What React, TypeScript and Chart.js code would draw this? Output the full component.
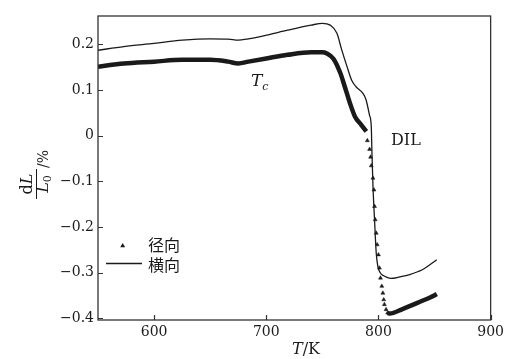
import React, { useEffect, useRef } from "react";
import { Chart, registerables } from "chart.js";

Chart.register(...registerables);

// ---- data ----
const X_TICKS = [600, 700, 800, 900];
const Y_TICKS = [-0.4, -0.3, -0.2, -0.1, 0, 0.1, 0.2];
const X_MIN = 550;
const X_MAX = 900;
const Y_MIN = -0.404;
const Y_MAX = 0.262;

// 横向 (solid line)
const transverseT = [550, 573, 600, 625, 650, 666, 675, 684, 700, 719, 740, 750, 757, 763, 767, 772, 776, 780, 786, 789, 792, 793.6, 794.2, 795.1, 796.5, 798, 799.5, 801.5, 803.9, 808, 811, 820, 827, 839, 852];
const transverseV = [0.187, 0.195, 0.202, 0.209, 0.212, 0.2115, 0.209, 0.212, 0.22, 0.231, 0.242, 0.246, 0.242, 0.224, 0.19, 0.151, 0.122, 0.107, 0.093, 0.078, 0.045, 0.02, -0.038, -0.11, -0.184, -0.257, -0.287, -0.3, -0.306, -0.311, -0.313, -0.309, -0.305, -0.294, -0.272];

// 径向 (triangles) — dense upper part
const radialUpperT = [550, 573, 600, 625, 650, 666, 675, 684, 700, 719, 740, 750, 754, 760, 766, 770, 774.6, 779, 784.8, 789.2];
const radialUpperV = [0.151, 0.158, 0.162, 0.166, 0.166, 0.162, 0.158, 0.162, 0.169, 0.177, 0.1825, 0.1825, 0.18, 0.168, 0.137, 0.107, 0.071, 0.042, 0.023, 0.009];
// 径向 — sparse points in the drop
const radialDropT = [790.1, 792.1, 793, 793.6, 795.1, 796, 796.5, 797.1, 798, 798.9, 800, 800.9, 801.8, 803, 803.9, 804.7, 805.3, 806.8, 808.2];
const radialDropV = [-0.011, -0.03, -0.047, -0.066, -0.093, -0.119, -0.155, -0.184, -0.2136, -0.239, -0.261, -0.29, -0.312, -0.33, -0.345, -0.3595, -0.37, -0.381, -0.3886];
// 径向 — dense lower part
const radialLowerT = [808.2, 810, 821.4, 836, 850.6, 852];
const radialLowerV = [-0.3886, -0.39, -0.38, -0.365, -0.349, -0.347];

const LEGEND_LABELS = ["径向", "横向"];

const SERIF = "'DejaVu Serif', serif";
const CJK = "'Noto Sans CJK SC', sans-serif";
const INK = "#1a1a1a";

const pts = (xs: number[], ys: number[]) => xs.map((x, i) => ({ x, y: ys[i] }));

function drawRuns(ctx: CanvasRenderingContext2D, runs: { t: string; f: string; dy?: number }[], x: number, y: number, align: "left" | "center" = "left") {
  let total = 0;
  for (const r of runs) { ctx.font = r.f; total += ctx.measureText(r.t).width; }
  let cx = align === "center" ? x - total / 2 : x;
  ctx.textAlign = "left";
  ctx.textBaseline = "alphabetic";
  for (const r of runs) {
    ctx.font = r.f;
    ctx.fillText(r.t, cx, y + (r.dy || 0));
    cx += ctx.measureText(r.t).width;
  }
}

const decorPlugin = {
  id: "decor",
  afterDraw(chart: any) {
    const ctx: CanvasRenderingContext2D = chart.ctx;
    const { left, right, top, bottom } = chart.chartArea;
    const xs = chart.scales.x;
    const ys = chart.scales.y;
    ctx.save();
    // frame
    ctx.strokeStyle = "#333";
    ctx.lineWidth = 1.3;
    ctx.strokeRect(left, top, right - left, bottom - top);
    // inward ticks
    ctx.lineWidth = 1.2;
    ctx.beginPath();
    for (const v of X_TICKS) {
      const px = Math.round(xs.getPixelForValue(v)) + 0.5;
      ctx.moveTo(px, bottom);
      ctx.lineTo(px, bottom - 5);
    }
    for (const v of Y_TICKS) {
      const py = Math.round(ys.getPixelForValue(v)) + 0.5;
      ctx.moveTo(left, py);
      ctx.lineTo(left + 5, py);
    }
    ctx.stroke();

    ctx.fillStyle = INK;
    // x axis title  T/K
    drawRuns(ctx, [
      { t: "T", f: `italic 16px ${SERIF}` },
      { t: "/K", f: `16px ${SERIF}` },
    ], 306, 354, "center");

    // y axis title: dL / L0 /%
    ctx.save();
    ctx.translate(36, 184);
    ctx.rotate(-Math.PI / 2);
    drawRuns(ctx, [
      { t: "d", f: `16px ${SERIF}` },
      { t: "L", f: `italic 16px ${SERIF}` },
    ], 0, -4, "center");
    ctx.strokeStyle = INK;
    ctx.lineWidth = 1;
    ctx.beginPath();
    ctx.moveTo(-15, 0.5);
    ctx.lineTo(15, 0.5);
    ctx.stroke();
    drawRuns(ctx, [
      { t: "L", f: `italic 16px ${SERIF}` },
      { t: "0", f: `11px ${SERIF}`, dy: 3 },
    ], 0, 12, "center");
    drawRuns(ctx, [{ t: "/%", f: `14px ${SERIF}` }], 16, 12);
    ctx.restore();

    // T_c annotation
    drawRuns(ctx, [
      { t: "T", f: `italic 17px ${SERIF}` },
      { t: "c", f: `italic 11px ${SERIF}`, dy: 4 },
    ], 251, 86);

    // DIL annotation
    drawRuns(ctx, [{ t: "DIL", f: `16px ${SERIF}` }], 391, 145);

    // legend
    const tx = 122.7, ty = 245.5, r = 2.6;
    ctx.fillStyle = INK;
    ctx.beginPath();
    ctx.moveTo(tx, ty - r);
    ctx.lineTo(tx + r * 0.95, ty + r * 0.7);
    ctx.lineTo(tx - r * 0.95, ty + r * 0.7);
    ctx.closePath();
    ctx.fill();
    ctx.strokeStyle = INK;
    ctx.lineWidth = 1.3;
    ctx.beginPath();
    ctx.moveTo(106, 263.5);
    ctx.lineTo(142, 263.5);
    ctx.stroke();
    ctx.font = `16px ${CJK}`;
    ctx.textAlign = "left";
    ctx.textBaseline = "middle";
    ctx.fillText(LEGEND_LABELS[0], 148, 245);
    ctx.fillText(LEGEND_LABELS[1], 148, 265);
    ctx.restore();
  },
};

export default function App() {
  const ref = useRef<HTMLCanvasElement | null>(null);
  useEffect(() => {
    if (!ref.current) return;
    const chart = new Chart(ref.current, {
      type: "line",
      data: {
        datasets: [
          {
            label: LEGEND_LABELS[1],
            data: pts(transverseT, transverseV),
            borderColor: INK,
            borderWidth: 1.3,
            pointRadius: 0,
            cubicInterpolationMode: "monotone",
            fill: false,
          },
          {
            label: LEGEND_LABELS[0] + "-upper",
            data: pts(radialUpperT, radialUpperV),
            borderColor: INK,
            borderWidth: 4.5,
            pointRadius: 0,
            cubicInterpolationMode: "monotone",
            fill: false,
          },
          {
            label: LEGEND_LABELS[0],
            data: pts(radialDropT, radialDropV),
            showLine: false,
            pointStyle: "triangle",
            pointRadius: 2.3,
            pointBackgroundColor: INK,
            pointBorderColor: INK,
            pointBorderWidth: 0.5,
          },
          {
            label: LEGEND_LABELS[0] + "-lower",
            data: pts(radialLowerT, radialLowerV),
            borderColor: INK,
            borderWidth: 4.5,
            pointRadius: 0,
            cubicInterpolationMode: "monotone",
            fill: false,
          },
        ],
      },
      options: {
        animation: false,
        responsive: false,
        layout: { padding: { top: 16, right: 13, left: 0, bottom: 0 } },
        plugins: { legend: { display: false }, tooltip: { enabled: false } },
        scales: {
          x: {
            type: "linear",
            min: X_MIN,
            max: X_MAX,
            grid: { display: false, drawTicks: false },
            border: { display: false },
            afterBuildTicks: (s: any) => { s.ticks = X_TICKS.map((v) => ({ value: v })); },
            afterFit: (s: any) => { s.height = 39; },
            ticks: {
              padding: 4,
              color: INK,
              font: { family: SERIF, size: 14 },
              maxRotation: 0,
              callback: (v: any) => String(v),
            },
          },
          y: {
            type: "linear",
            min: Y_MIN,
            max: Y_MAX,
            grid: { display: false, drawTicks: false },
            border: { display: false },
            afterBuildTicks: (s: any) => { s.ticks = Y_TICKS.map((v) => ({ value: v })); },
            afterFit: (s: any) => { s.width = 98; },
            ticks: {
              padding: 4,
              color: INK,
              font: { family: SERIF, size: 14 },
              callback: (v: any) => {
                const n = Number(v);
                if (Math.abs(n) < 1e-9) return "0";
                return n.toFixed(1).replace("-", "\u2212");
              },
            },
          },
        },
      },
      plugins: [decorPlugin],
    } as any);
    return () => chart.destroy();
  }, []);
  return (
    <div style={{ position: "absolute", left: 0, top: 0, width: 508, height: 359, background: "#fff" }}>
      <canvas ref={ref} width={508} height={359} style={{ display: "block" }} />
    </div>
  );
}
